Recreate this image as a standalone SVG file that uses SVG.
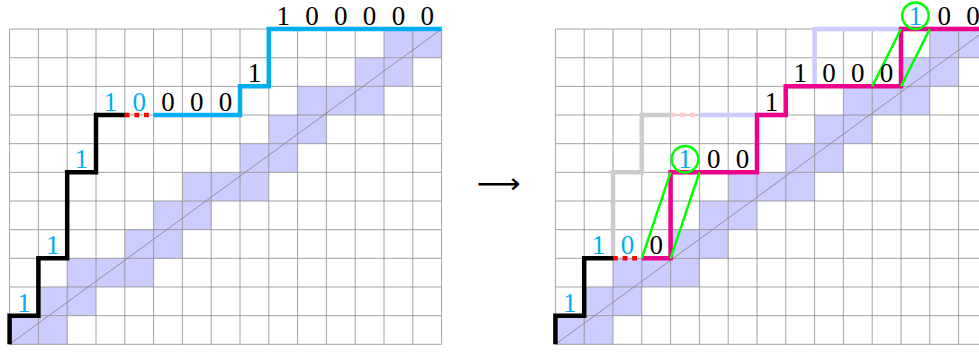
<svg xmlns="http://www.w3.org/2000/svg" xmlns:xlink="http://www.w3.org/1999/xlink" width="979" height="354" viewBox="0 0 979 354">
<style>
.shade{fill:#ccccff;stroke:none}
.grid{fill:none;stroke:#8c8c8c;stroke-width:0.8}
.diag{fill:none;stroke:#808080;stroke-width:0.8}
.p{fill:none;stroke-width:4.5;stroke-linejoin:miter;stroke-linecap:butt}
.black{stroke:#000}
.blue{stroke:#00aeef}
.red{stroke:#ff0000;stroke-dasharray:4.8 4.8}
.pink{stroke:#ffcccc;stroke-dasharray:4.8 4.8}
.gray{stroke:#cccccc}
.lblue{stroke:#ccccff}
.mag{stroke:#ec008c}
.green{fill:none;stroke:#00ff00;stroke-width:2.5}
text{font-family:"Liberation Serif","Times New Roman",serif;font-size:27px;text-anchor:middle}
.c{fill:#00aeef}
.k{fill:#000}
</style>
<defs>
<g id="board">
<g class="shade">
<rect x="9.6" y="315.64" width="57.6" height="28.66"/>
<rect x="38.4" y="286.98" width="57.6" height="28.66"/>
<rect x="67.2" y="258.32" width="86.4" height="28.66"/>
<rect x="124.8" y="229.66" width="57.6" height="28.66"/>
<rect x="153.6" y="201" width="57.6" height="28.66"/>
<rect x="182.4" y="172.34" width="86.4" height="28.66"/>
<rect x="240" y="143.68" width="57.6" height="28.66"/>
<rect x="268.8" y="115.02" width="57.6" height="28.66"/>
<rect x="297.6" y="86.36" width="86.4" height="28.66"/>
<rect x="355.2" y="57.7" width="57.6" height="28.66"/>
<rect x="384" y="29.04" width="57.6" height="28.66"/>
</g>
<path class="grid" d="M9.6 29.04V344.3M38.4 29.04V344.3M67.2 29.04V344.3M96 29.04V344.3M124.8 29.04V344.3M153.6 29.04V344.3M182.4 29.04V344.3M211.2 29.04V344.3M240 29.04V344.3M268.8 29.04V344.3M297.6 29.04V344.3M326.4 29.04V344.3M355.2 29.04V344.3M384 29.04V344.3M412.8 29.04V344.3M441.6 29.04V344.3M9.6 344.3H441.6M9.6 315.64H441.6M9.6 286.98H441.6M9.6 258.32H441.6M9.6 229.66H441.6M9.6 201H441.6M9.6 172.34H441.6M9.6 143.68H441.6M9.6 115.02H441.6M9.6 86.36H441.6M9.6 57.7H441.6M9.6 29.04H441.6"/>
<path class="diag" d="M9.6 344.3L441.6 29.04"/>
</g>
</defs>

<g id="left-panel">
<use xlink:href="#board" href="#board"/>
<g id="left-paths">
<path class="p black" d="M9.6 344.3V315.64H38.4V258.32H67.2V172.34H96V115.02H124.8"/>
<path class="p red" d="M124.8 115.02H153.6"/>
<path class="p blue" d="M153.6 115.02H240V86.36H268.8V29.04H441.6"/>
</g>
<g id="left-labels">
<text class="c" x="24" y="311.6">1</text>
<text class="c" x="52.8" y="254.3">1</text>
<text class="c" x="81.6" y="168.3">1</text>
<text class="c" x="110.4" y="111">1</text>
<text class="c" x="139.2" y="111">0</text>
<text class="k" x="168" y="111">0</text>
<text class="k" x="196.8" y="111">0</text>
<text class="k" x="225.6" y="111">0</text>
<text class="k" x="254.4" y="82.4">1</text>
<text class="k" x="283.2" y="25">1</text>
<text class="k" x="312" y="25">0</text>
<text class="k" x="340.8" y="25">0</text>
<text class="k" x="369.6" y="25">0</text>
<text class="k" x="398.4" y="25">0</text>
<text class="k" x="427.2" y="25">0</text>
</g>
</g>

<g id="arrow">
<text x="476.5" y="193" textLength="44" lengthAdjust="spacingAndGlyphs" style="font-family:'DejaVu Sans',sans-serif;font-size:28px;text-anchor:start">⟶</text>
</g>

<g id="right-panel">
<use xlink:href="#board" href="#board" x="545.8"/>
<g id="right-paths">
<path class="p gray" d="M613 258.32V172.34H641.8V115.02H670.6"/>
<path class="p pink" d="M670.6 115.02H699.4"/>
<path class="p lblue" d="M699.4 115.02H785.8V86.36H814.6V29.04H987.4"/>
<path class="p black" d="M555.4 344.3V315.64H584.2V258.32H613"/>
<path class="p red" d="M613 258.32H641.8"/>
<path class="p mag" d="M641.8 258.32H670.6V172.34H757V115.02H785.8V86.36H901V29.04H987.4"/>
<path class="green" d="M641.8 258.32L670.6 172.34M670.6 258.32L699.4 172.34M872.2 86.36L901 29.04M901 86.36L929.8 29.04"/>
</g>
<g id="right-labels">
<text class="c" x="569.8" y="311.6">1</text>
<text class="c" x="598.6" y="254.3">1</text>
<text class="c" x="627.4" y="254.3">0</text>
<text class="k" x="656.2" y="254.3">0</text>
<text class="c" x="685" y="168.3">1</text>
<circle class="green" cx="685" cy="159.3" r="13.3"/>
<text class="k" x="713.8" y="168.3">0</text>
<text class="k" x="742.6" y="168.3">0</text>
<text class="k" x="771.4" y="111">1</text>
<text class="k" x="800.2" y="82.4">1</text>
<text class="k" x="829" y="82.4">0</text>
<text class="k" x="857.8" y="82.4">0</text>
<text class="k" x="886.6" y="82.4">0</text>
<text class="c" x="915.4" y="25">1</text>
<circle class="green" cx="915.4" cy="15.8" r="13.3"/>
<text class="k" x="944.2" y="25">0</text>
<text class="k" x="973" y="25">0</text>
</g>
</g>
</svg>
